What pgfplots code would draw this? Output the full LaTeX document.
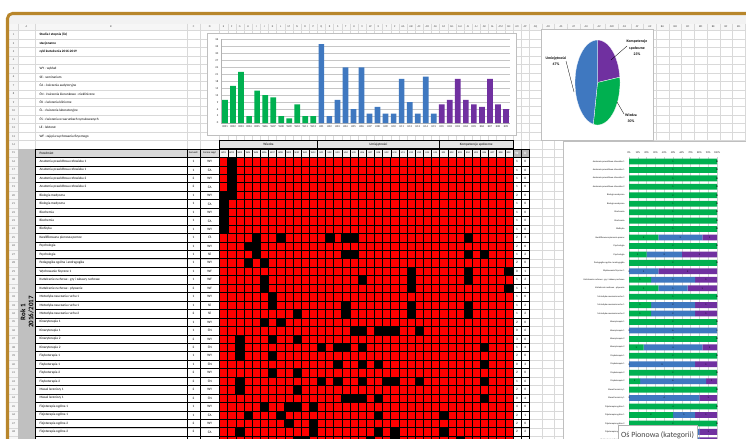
\documentclass[border=0pt]{standalone}
\usepackage{pgfplots}
\pgfplotsset{compat=1.18}
\usepackage{pgfplotstable}
\usepackage{fontspec}
\setmainfont{Carlito}
\definecolor{cW}{HTML}{00B050}
\definecolor{cU}{HTML}{3F78C0}
\definecolor{cK}{HTML}{7030A0}
\definecolor{gold}{HTML}{B8862B}
\definecolor{sgrid}{HTML}{D9D9D9}
\definecolor{colA}{HTML}{C0C0C0}
\newcommand{\tbl}{\fontsize{3.4}{4}\selectfont}

% W / U / K effects per course (row g of the matrix)
\pgfplotstableread{
g W U K
1 1 0 0
2 1 0 0
3 1 0 0
4 1 0 0
5 2 0 0
6 1 0 0
7 1 0 0
8 1 0 0
9 1 0 0
10 2 3 1
11 2 0 0
12 1 2 2
13 2 0 0
14 0 1 2
15 1 2 1
16 1 1 1
17 1 0 0
18 1 2 1
19 1 2 1
20 2 0 0
21 0 6 0
22 3 0 0
23 1 4 1
24 2 0 0
25 0 3 1
26 2 0 0
27 1 6 1
28 2 0 0
29 0 4 1
30 4 0 0
31 2 1 1
32 2 0 0
33 2 2 1
34 2 2 1
}\stk

\begin{document}
\begin{tikzpicture}
\useasboundingbox (0,0) rectangle (746bp,-439bp);
\clip (0,0) rectangle (746bp,-439bp);
\begin{scope}[x=1bp,y=-1bp]
\fill[white] (0,0) rectangle (746,439);
\fill[gray!10] (9,15) rectangle (746,23.5);
\fill[gray!7] (9,23.5) rectangle (746,30.5);
\fill[gray!7] (9,30.5) rectangle (18,439);
% sheet grid
\foreach \r in {0,...,50} \draw[sgrid,line width=0.3bp] (9,{30.5+\r*8.45}) -- (746,{30.5+\r*8.45});
\foreach \xx in {18,35,187,200,219.5} \draw[sgrid,line width=0.3bp] (\xx,23.5) -- (\xx,439);
\foreach \k in {1,...,38} \draw[sgrid,line width=0.3bp] ({219.5+\k*8.15},23.5) -- ({219.5+\k*8.15},439);
\foreach \k in {1,...,17} \draw[sgrid,line width=0.3bp] ({529.2+\k*12.7},23.5) -- ({529.2+\k*12.7},439);
% column letters and row numbers
\begin{scope}[font=\fontsize{2.8}{3}\selectfont, text=gray!60!black]
\node at (26.5,27) {A}; \node at (111,27) {B}; \node at (193.5,27) {C}; \node at (209.75,27) {D};
\foreach \lt [count=\k] in {E,F,G,H,I,J,K,L,M,N,O,P,Q,R,S,T,U,V,W,X,Y,Z,AA,AB,AC,AD,AE,AF,AG,AH,AI,AJ,AK,AL,AM,AN,AO,AP}
  \node at ({219.5+(\k-0.5)*8.15},27) {\lt};
\foreach \lt [count=\k] in {AQ,AR,AS,AT,AU,AV,AW,AX,AY,AZ,BA,BB,BC,BD,BE,BF,BG}
  \node at ({529.2+(\k-0.5)*12.7},27) {\lt};
\foreach \r in {1,...,48} \node at (13.5,{34.725+(\r-1)*8.45}) {\r};
\end{scope}
\draw[gold,line width=3bp,rounded corners=5bp] (7.5,13.5) rectangle (900,600);

% top text
\node[anchor=west,font=\tbl\bfseries] at (36,34.725) {Studia I stopnia (lic)};
\node[anchor=west,font=\tbl\bfseries] at (36,43.175) {stacjonarne};
\node[anchor=west,font=\tbl\bfseries] at (36,51.625) {cykl kształcenia 2016-2019};
\foreach \t [count=\i from 5] in {WY - wykład, SE - seminarium, ĆA - ćwiczenia audytoryjne, ĆN - ćwiczenia kierunkowe - niekliniczne, ĆK - ćwiczenia kliniczne, ĆL - ćwiczenia laboratoryjne, ĆS - ćwiczenia w warunkach symulowanych, LE - lektorat, WF - zajęcia wychowania fizycznego}
  \node[anchor=west,font=\tbl] at (36,{34.725+(\i-1)*8.45}) {\t};

% left table
\fill[colA] (18,148.8) rectangle (35,439);
\fill[gray!30] (35,148.8) rectangle (219.5,157.25);
\foreach \r in {15,...,50} \draw[black,line width=0.35bp] (35,{30.5+(\r-1)*8.45}) -- (219.5,{30.5+(\r-1)*8.45});
\foreach \xx in {35,187,200,219.5} \draw[black,line width=0.35bp] (\xx,148.8) -- (\xx,439);
\node[anchor=west,font=\tbl] at (36,153.025) {Przedmiot};
\node[font=\fontsize{2.6}{3}\selectfont] at (193.5,153.025) {Semestr};
\node[font=\fontsize{2.6}{3}\selectfont] at (209.75,153.025) {Forma zajęć};
\foreach \n/\s/\f [count=\i] in {Anatomia prawidłowa człowieka 1/1/WY, Anatomia prawidłowa człowieka 1/1/ĆA, Anatomia prawidłowa człowieka 2/2/WY, Anatomia prawidłowa człowieka 2/2/ĆA, Biologia medyczna/1/WY, Biologia medyczna/1/ĆA, Biochemia/1/WY, Biochemia/1/ĆA, Biofizyka/1/WY, Kwalifikowana pierwsza pomoc/1/ĆS, Psychologia/1/WY, Psychologia/1/SE, Pedagogika ogólna i andragogika/1/WY, Wychowanie fizyczne 1/1/WF, Kształcenie ruchowe - gry i zabawy ruchowe/1/WF, Kształcenie ruchowe - pływanie/2/WF, Metodyka nauczania ruchu 1/1/WY, Metodyka nauczania ruchu 1/1/SE, Metodyka nauczania ruchu 2/2/SE, Kinezyterapia 1/1/WY, Kinezyterapia 1/1/ĆN, Kinezyterapia 2/2/WY, Kinezyterapia 2/2/ĆN, Fizykoterapia 1/1/WY, Fizykoterapia 1/1/ĆN, Fizykoterapia 2/2/WY, Fizykoterapia 2/2/ĆN, Masaż leczniczy 1/2/WY, Masaż leczniczy 1/2/ĆN, Fizjoterapia ogólna 1/1/WY, Fizjoterapia ogólna 1/1/ĆA, Fizjoterapia ogólna 2/2/WY, Fizjoterapia ogólna 2/2/ĆA} {
  \node[anchor=west,font=\tbl] at (36,{153.025+\i*8.45}) {\n};
  \node[font=\tbl] at (193.5,{153.025+\i*8.45}) {\s};
  \node[font=\tbl] at (209.75,{153.025+\i*8.45}) {\f};
}
\node[rotate=90,font=\fontsize{7}{8}\selectfont\bfseries,align=center] at (27,312) {Rok 1\\2016/2017};

% matrix header
\fill[gray!22] (219.5,140.35) rectangle (512.9,148.8);
\draw[black,line width=0.8bp] (219.5,140.35) rectangle (317.3,148.8);
\draw[black,line width=0.8bp] (317.3,140.35) rectangle (439.55,148.8);
\draw[black,line width=0.8bp] (439.55,140.35) rectangle (512.9,148.8);
\node[font=\tbl] at (268.4,144.6) {Wiedza};
\node[font=\tbl] at (378.4,144.6) {Umiejętności};
\node[font=\tbl] at (476.2,144.6) {Kompetencje społeczne};
\foreach \lt [count=\k] in {W01,W02,W03,W04,W05,W06,W07,W08,W09,W10,W11,W12,U01,U02,U03,U04,U05,U06,U07,U08,U09,U10,U11,U12,U13,U14,U15,K01,K02,K03,K04,K05,K06,K07,K08,K09} {
  \draw[black,line width=0.3bp,fill=gray!8] ({219.5+(\k-1)*8.15},148.8) rectangle ({219.5+\k*8.15},157.25);
  \node[font=\fontsize{2.4}{3}\selectfont] at ({219.5+(\k-0.5)*8.15},153.025) {\lt};
}
% W / U count columns
\fill[gray!55] (512.9,148.8) rectangle (529.2,157.25);
\node[font=\tbl\bfseries,text=white] at (516.975,153.025) {W};
\node[font=\tbl\bfseries,text=white] at (525.125,153.025) {U};
\foreach \r in {15,...,50} \draw[black,line width=0.35bp] (512.9,{30.5+(\r-1)*8.45}) -- (529.2,{30.5+(\r-1)*8.45});
\draw[black,line width=0.35bp] (521.05,148.8) -- (521.05,439);
\draw[black,line width=0.8bp] (512.9,148.8) -- (512.9,439);
\draw[black,line width=0.8bp] (529.2,148.8) -- (529.2,439);
\foreach \w/\u [count=\i] in {1/0,1/0,1/0,1/0,2/0,1/0,1/0,1/0,1/0,2/3,2/0,1/2,2/0,0/1,1/2,1/1,1/0,1/2,1/2,2/0,0/6,3/0,1/4,2/0,0/3,2/0,1/6,2/0,0/4,4/0,2/1,2/0,2/2} {
  \node[font=\tbl] at (516.975,{153.025+\i*8.45}) {\w};
  \node[font=\tbl] at (525.125,{153.025+\i*8.45}) {\u};
}
% chart frames
\draw[gray!50,fill=white,line width=0.5bp] (207,33) rectangle (516,135);
\draw[gray!50,fill=white,line width=0.5bp] (541,29.5) rectangle (653,140);
\draw[gray!50,fill=white,line width=0.5bp] (563,141.5) rectangle (760,460);
\end{scope}

% effect matrix
\begin{axis}[at={(219.5bp,-157.25bp)}, anchor=north west, width=293.4bp, height=287.3bp, scale only axis,
  xmin=0.5, xmax=36.5, ymin=0.5, ymax=34.5, y dir=reverse,
  axis background/.style={fill=red},
  xtick={0.5,1.5,...,36.5}, ytick={0.5,1.5,...,34.5}, xticklabels={}, yticklabels={},
  major tick length=0pt, xmajorgrids, ymajorgrids,
  grid style={black, line width=0.35bp}, axis on top,
  axis line style={black, line width=0.6bp}]
\addplot[only marks, mark=square*, mark size=4.2bp, black] coordinates {
(2,1)(2,2)(2,3)(2,4)(1,5)(2,5)(1,6)(1,7)(1,8)(1,9)
(5,10)(8,10)(14,10)(16,10)(17,10)(31,10)
(4,11)(5,11)
(5,12)(16,12)(17,12)(31,12)(33,12)
(4,13)(6,13)
(24,14)(31,14)(36,14)
(6,15)(18,15)(24,15)(31,15)
(6,16)(24,16)(36,16)
(7,17)
(7,18)(16,18)(24,18)(31,18)
(10,19)(16,19)(24,19)(31,19)
(6,20)(8,20)
(17,21)(18,21)(20,21)(21,21)(22,21)(25,21)
(3,22)(7,22)(10,22)
(3,23)(13,23)(15,23)(16,23)(18,23)(33,23)
(3,24)(7,24)
(15,25)(18,25)(20,25)(33,25)
(7,26)(10,26)
(3,27)(13,27)(15,27)(18,27)(21,27)(22,27)(25,27)(33,27)
(3,28)(10,28)
(16,29)(17,29)(18,29)(20,29)(33,29)
(6,30)(9,30)(10,30)(12,30)
(4,31)(8,31)(20,31)(28,31)
(9,32)(12,32)
(3,33)(12,33)(20,33)(22,33)(28,33)
(10,34)(11,34)(19,34)(22,34)(30,34)
};
\draw[black,line width=1bp] (axis cs:12.5,0.5) -- (axis cs:12.5,34.5);
\draw[black,line width=1bp] (axis cs:27.5,0.5) -- (axis cs:27.5,34.5);
\end{axis}

% bar chart of effects
\begin{axis}[at={(221bp,-123bp)}, anchor=origin, width=289bp, height=83.5bp, scale only axis,
  xmin=0.5, xmax=36.5, ymin=0, ymax=36, ytick={0,3,...,36},
  xtick={1,...,36},
  xticklabels={W01,W02,W03,W04,W05,W06,W07,W08,W09,W10,W11,W12,U01,U02,U03,U04,U05,U06,U07,U08,U09,U10,U11,U12,U13,U14,U15,K01,K02,K03,K04,K05,K06,K07,K08,K09},
  axis x line*=bottom, axis y line*=left, axis line style={gray!60, line width=0.4bp},
  ymajorgrids, grid style={gray!45, line width=0.4bp},
  major tick length=1.2bp, tick style={gray!60},
  tick label style={font=\fontsize{2.8}{3}\selectfont, text=gray!30!black},
  xticklabel style={yshift=1bp}, yticklabel style={xshift=0.8bp},
  /pgf/number format/assume math mode=true]
\addplot[ybar, bar width=5.7bp, fill=cW, draw=none] coordinates {(1,10)(2,16)(3,22)(4,3)(5,14)(6,12)(7,11)(8,3)(9,2)(10,8)(11,3)(12,3)};
\addplot[ybar, bar width=5.7bp, fill=cU, draw=none] coordinates {(13,34)(14,3)(15,10)(16,24)(17,6)(18,24)(19,4)(20,7)(21,4)(22,4)(23,19)(24,9)(25,4)(26,20)(27,4)};
\addplot[ybar, bar width=5.7bp, fill=cK, draw=none] coordinates {(28,8)(29,10)(30,19)(31,10)(32,8)(33,7)(34,19)(35,8)(36,6)};
\end{axis}

% pie chart
\begin{axis}[at={(597.5bp,-82.5bp)}, anchor=origin, width=45bp, height=85bp, scale only axis, hide axis,
  xmin=-1, xmax=1, ymin=-1, ymax=1, clip=false]
\addplot[fill=cK, draw=white, line width=0.3bp, data cs=polar] coordinates {(0,0)(90,1)(84,1)(78,1)(72,1)(66,1)(60,1)(54,1)(48,1)(42,1)(36,1)(30,1)(24,1)(18,1)(12,1)(7.2,1)} -- cycle;
\addplot[fill=cW, draw=white, line width=0.3bp, data cs=polar] coordinates {(0,0)(7.2,1)(0,1)(-6,1)(-12,1)(-18,1)(-24,1)(-30,1)(-36,1)(-42,1)(-48,1)(-54,1)(-60,1)(-66,1)(-72,1)(-78,1)(-84,1)(-90,1)(-96,1)(-100.8,1)} -- cycle;
\addplot[fill=cU, draw=white, line width=0.3bp, data cs=polar] coordinates {(0,0)(-100.8,1)(-108,1)(-114,1)(-120,1)(-126,1)(-132,1)(-138,1)(-144,1)(-150,1)(-156,1)(-162,1)(-168,1)(-174,1)(-180,1)(-186,1)(-192,1)(-198,1)(-204,1)(-210,1)(-216,1)(-222,1)(-228,1)(-234,1)(-240,1)(-246,1)(-252,1)(-258,1)(-264,1)(-270,1)} -- cycle;
\end{axis}

% stacked 100% bar chart per course
\begin{axis}[at={(629bp,-157.25bp)}, anchor=north west, width=88bp, height=287.3bp, scale only axis,
  xbar stacked, bar width=5.8bp, xmin=0, xmax=100, ymin=0.5, ymax=34.5, y dir=reverse,
  xtick={0,10,...,100}, xticklabel={\pgfmathprintnumber{\tick}\%},
  ytick={1,...,34},
  yticklabels={Anatomia prawidłowa człowieka 1, Anatomia prawidłowa człowieka 1, Anatomia prawidłowa człowieka 2, Anatomia prawidłowa człowieka 2, Biologia medyczna, Biologia medyczna, Biochemia, Biochemia, Biofizyka, Kwalifikowana pierwsza pomoc, Psychologia, Psychologia, Pedagogika ogólna i andragogika, Wychowanie fizyczne 1, Kształcenie ruchowe - gry i zabawy ruchowe, Kształcenie ruchowe - pływanie, Metodyka nauczania ruchu 1, Metodyka nauczania ruchu 1, Metodyka nauczania ruchu 2, Kinezyterapia 1, Kinezyterapia 1, Kinezyterapia 2, Kinezyterapia 2, Fizykoterapia 1, Fizykoterapia 1, Fizykoterapia 2, Fizykoterapia 2, Masaż leczniczy 1, Masaż leczniczy 1, Fizjoterapia ogólna 1, Fizjoterapia ogólna 1, Fizjoterapia ogólna 2, Fizjoterapia ogólna 2, Technologia informacyjna},
  axis x line*=top, axis y line*=left, axis line style={draw=none},
  major tick length=0pt, xmajorgrids, grid style={gray!35, line width=0.35bp},
  tick label style={font=\fontsize{2.3}{2.6}\selectfont, text=gray!20!black},
  xticklabel style={font=\fontsize{2.6}{3}\selectfont},
  yticklabel style={xshift=-1bp},
  /pgf/number format/assume math mode=true]
\addplot[fill=cW, draw=none] table[x expr={100*\thisrow{W}/(\thisrow{W}+\thisrow{U}+\thisrow{K})}, y=g]{\stk};
\addplot[fill=cU, draw=none] table[x expr={100*\thisrow{U}/(\thisrow{W}+\thisrow{U}+\thisrow{K})}, y=g]{\stk};
\addplot[fill=cK, draw=none] table[x expr={100*\thisrow{K}/(\thisrow{W}+\thisrow{U}+\thisrow{K})}, y=g]{\stk};
\end{axis}
\begin{axis}[at={(629bp,-157.25bp)}, anchor=north west, width=88bp, height=287.3bp, scale only axis,
  xmin=0, xmax=100, ymin=0.5, ymax=34.5, y dir=reverse, hide axis, clip=false,
  every node near coord/.append style={anchor=center, font=\fontsize{2.4}{3}\selectfont, inner sep=0pt, text=black},
  /pgf/number format/assume math mode=true]
\addplot[draw=none, nodes near coords, point meta=explicit] table[x expr={50*\thisrow{W}/(\thisrow{W}+\thisrow{U}+\thisrow{K})}, y=g, meta=W]{\stk};
\addplot[draw=none, nodes near coords, point meta=explicit] table[x expr={100*(\thisrow{W}+0.5*\thisrow{U})/(\thisrow{W}+\thisrow{U}+\thisrow{K})}, y=g, meta=U]{\stk};
\addplot[draw=none, nodes near coords, point meta=explicit] table[x expr={100*(\thisrow{W}+\thisrow{U}+0.5*\thisrow{K})/(\thisrow{W}+\thisrow{U}+\thisrow{K})}, y=g, meta=K]{\stk};
\end{axis}

\begin{scope}[x=1bp,y=-1bp]
\draw[black,line width=0.3bp] (627,46) -- (611,60);
\draw[black,line width=0.3bp] (566,61) -- (574,92);
\draw[black,line width=0.3bp] (624,114) -- (617,102);
\node[font=\fontsize{3.8}{6.5}\selectfont\bfseries,align=center] at (637,48) {Kompetencje\\społeczne\\23\%};
\node[font=\fontsize{3.8}{6.5}\selectfont\bfseries,align=center] at (556,61) {Umiejętności\\47\%};
\node[font=\fontsize{3.8}{6.5}\selectfont\bfseries,align=center] at (631,118) {Wiedza\\30\%};
% tooltip
\draw[gray!60,fill=white,line width=0.5bp] (618,425.5) rectangle (697,450);
\node[anchor=base,font=\fontsize{8}{9}\selectfont,text=gray!55!black] at (657.5,437.5) {Oś Pionowa (kategorii)};
\end{scope}
\end{tikzpicture}
\end{document}
